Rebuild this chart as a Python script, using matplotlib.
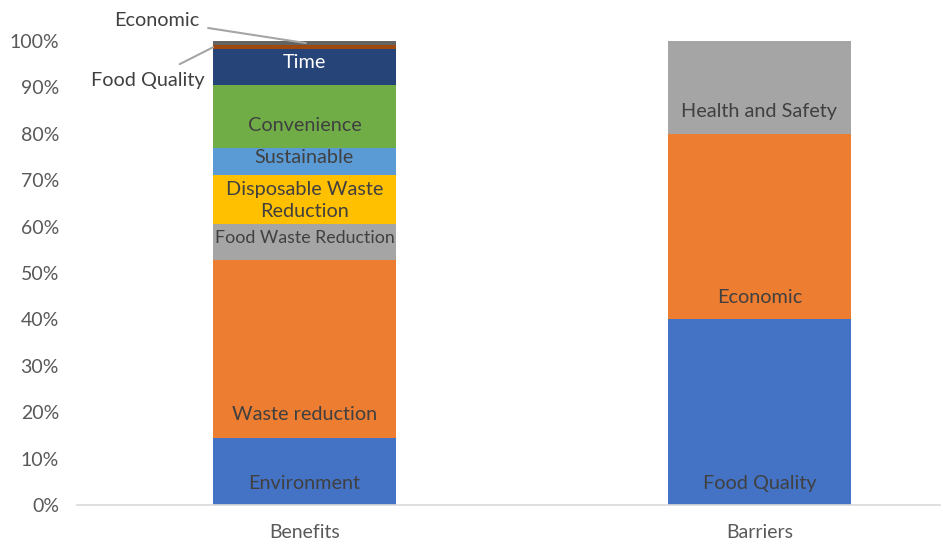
import matplotlib
matplotlib.use("Agg")
import matplotlib.pyplot as plt
from matplotlib.ticker import PercentFormatter

categories = ["Benefits", "Barriers"]

benefit_names = ["Environment", "Waste reduction", "Food Waste Reduction",
                 "Disposable Waste\nReduction", "Sustainable", "Convenience",
                 "Time", "Food Quality", "Economic"]
benefit_values = [0.144, 0.385, 0.077, 0.106, 0.058, 0.135, 0.077, 0.009, 0.009]
benefit_colors = ["#4472C4", "#ED7D31", "#A5A5A5", "#FFC000", "#5B9BD5",
                  "#70AD47", "#264478", "#9E480E", "#636363"]
benefit_label_y = [0.047, 0.194, 0.576, 0.656, 0.75, 0.817, 0.953, None, None]

barrier_names = ["Food Quality", "Economic", "Health and Safety"]
barrier_values = [0.40, 0.40, 0.20]
barrier_colors = ["#4472C4", "#ED7D31", "#A5A5A5"]
barrier_label_y = [0.047, 0.448, 0.849]

yticks = [i / 10 for i in range(11)]

plt.rcParams['font.family'] = ['Lato', 'DejaVu Sans']

W, H = 943, 544
fig = plt.figure(figsize=(W / 100, H / 100), dpi=100)
ax = fig.add_axes([77 / W, 1 - 505 / H, 863 / W, 464 / H])

bw = 0.402
txt = "#404040"
fs = 14.3

bottom = 0
for name, v, c, ly in zip(benefit_names, benefit_values, benefit_colors, benefit_label_y):
    ax.bar(0, v, bw, bottom=bottom, color=c, linewidth=0)
    if ly is not None:
        col = "white" if name == "Time" else txt
        size = 12.8 if name == "Food Waste Reduction" else fs
        ax.text(0, ly, name, ha="center", va="center", fontsize=size, color=col,
                linespacing=1.35)
    bottom += v

bottom = 0
for name, v, c, ly in zip(barrier_names, barrier_values, barrier_colors, barrier_label_y):
    ax.bar(1, v, bw, bottom=bottom, color=c, linewidth=0)
    ax.text(1, ly, name, ha="center", va="center", fontsize=fs, color=txt)
    bottom += v

# leader-line labels for the thin segments
top_econ = sum(benefit_values) - benefit_values[-1] / 2
top_fq = sum(benefit_values[:-1]) - benefit_values[-2] / 2
ax.annotate("Economic", xy=(0.003, top_econ), xytext=(-0.23, 1.045),
            ha="right", va="center", fontsize=fs, color=txt,
            arrowprops=dict(arrowstyle="-", color="#A5A5A5", lw=1.5,
                            shrinkA=4, shrinkB=0), annotation_clip=False)
ax.annotate("Food Quality", xy=(-bw / 2, top_fq), xytext=(-0.22, 0.915),
            ha="right", va="center", fontsize=fs, color=txt,
            arrowprops=dict(arrowstyle="-", color="#A5A5A5", lw=1.5,
                            shrinkA=8, shrinkB=0), annotation_clip=False)

ax.set_xlim(-0.5, 1.397)
ax.set_ylim(0, 1)
ax.set_yticks(yticks)
ax.yaxis.set_major_formatter(PercentFormatter(1.0, decimals=0))
ax.set_xticks([0, 1])
ax.set_xticklabels(categories)
ax.tick_params(axis="both", length=0, labelsize=14, labelcolor="#595959")
ax.tick_params(axis="x", pad=14)
ax.tick_params(axis="y", pad=13)
for s in ["top", "right", "left"]:
    ax.spines[s].set_visible(False)
ax.spines["bottom"].set_color("#D9D9D9")
ax.spines["bottom"].set_linewidth(1.2)

fig.savefig("out.png", dpi=100)
